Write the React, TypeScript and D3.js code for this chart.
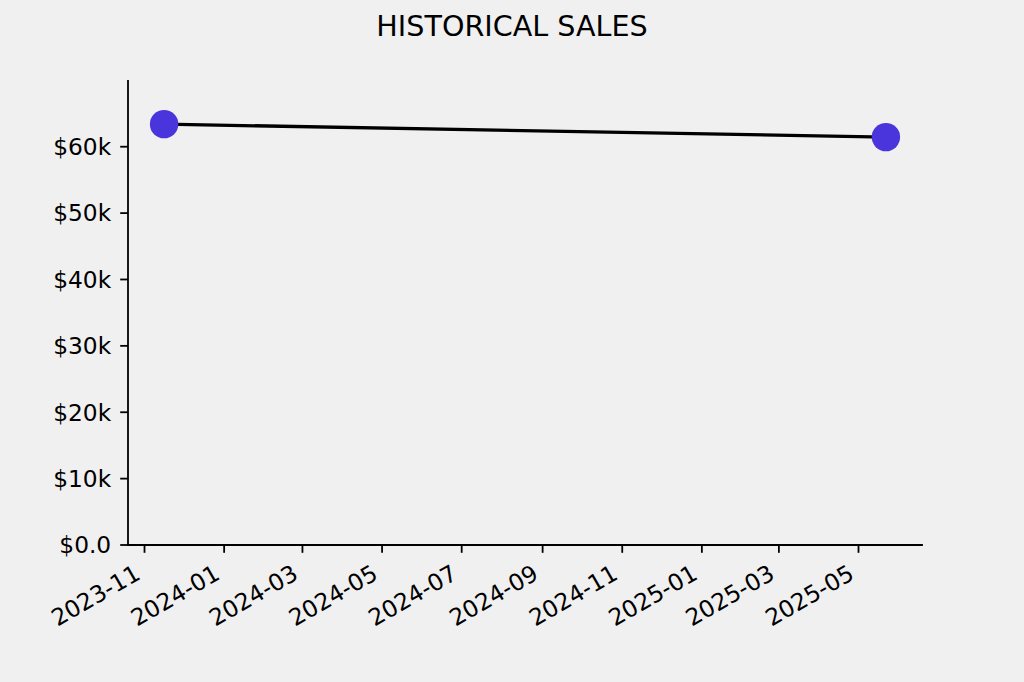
import React from "react";
import * as d3 from "d3";

const title = "HISTORICAL SALES";
const dates = ["2023-11-16", "2025-05-22"];
const sales = [63400, 61450];
const yTicks = [0, 10000, 20000, 30000, 40000, 50000, 60000];
const yTickLabels = ["$0.0", "$10k", "$20k", "$30k", "$40k", "$50k", "$60k"];

const W = 1024;
const H = 682;
const M = { left: 128, right: 922, top: 81, bottom: 545 };
const FONT = "DejaVu Sans, sans-serif";

export default function App() {
  const parsed = dates.map((d) => new Date(d + "T00:00:00Z"));
  const t0 = +parsed[0];
  const t1 = +parsed[parsed.length - 1];
  const pad = (t1 - t0) * 0.05;
  const x = d3
    .scaleUtc()
    .domain([new Date(t0 - pad), new Date(t1 + pad)])
    .range([M.left, M.right]);
  const y = d3.scaleLinear().domain([0, 69900]).range([M.bottom, M.top]);
  const xTicks = x.ticks(d3.utcMonth.every(2)!);
  const fmt = d3.utcFormat("%Y-%m");
  const line = d3
    .line<number>()
    .x((_, i) => x(parsed[i]))
    .y((v) => y(v));

  const tickLen = 7.8;
  const fs = 23.3;
  const a = 0.76 * fs;
  const dsc = 0.24 * fs;

  return (
    <svg
      width={W}
      height={H}
      style={{ position: "absolute", left: 0, top: 0, display: "block" }}
      fontFamily={FONT}
    >
      <rect x={0} y={0} width={W} height={H} fill="#f0f0f0" />
      <text x={512} y={35.5} textAnchor="middle" fontSize={28.6} fill="#000">
        {title}
      </text>
      {/* y axis */}
      <line x1={M.left} x2={M.left} y1={M.top} y2={M.bottom} stroke="#000" strokeWidth={1.8} strokeLinecap="square" />
      {yTicks.map((t, i) => (
        <g key={"y" + t}>
          <line x1={M.left - tickLen} x2={M.left} y1={y(t)} y2={y(t)} stroke="#000" strokeWidth={1.8} />
          <text
            x={M.left - tickLen - 9}
            y={y(t)}
            dy="0.36em"
            textAnchor="end"
            fontSize={fs}
            fill="#000"
          >
            {yTickLabels[i]}
          </text>
        </g>
      ))}
      {/* x axis */}
      <line x1={M.left} x2={M.right} y1={M.bottom} y2={M.bottom} stroke="#000" strokeWidth={1.8} strokeLinecap="square" />
      {xTicks.map((t) => {
        const tx = x(t);
        const ax = tx - 0.5 * dsc;
        const ay = M.bottom + tickLen + 10 + 0.866 * a;
        return (
          <g key={"x" + +t}>
            <line x1={tx} x2={tx} y1={M.bottom} y2={M.bottom + tickLen} stroke="#000" strokeWidth={1.8} />
            <text
              transform={`translate(${ax},${ay}) rotate(-30)`}
              textAnchor="end"
              fontSize={fs}
              fill="#000"
            >
              {fmt(t)}
            </text>
          </g>
        );
      })}
      <path d={line(sales) || ""} fill="none" stroke="#000" strokeWidth={3.3} />
      {sales.map((v, i) => (
        <circle key={"p" + i} cx={x(parsed[i])} cy={y(v)} r={14.2} fill="#4a35dd" />
      ))}
    </svg>
  );
}
